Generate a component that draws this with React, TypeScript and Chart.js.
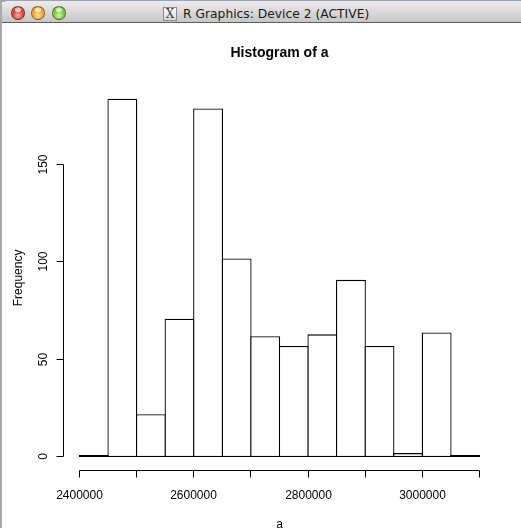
import React, { useEffect, useRef } from "react";
import { Chart, registerables } from "chart.js";

Chart.register(...registerables);

// ---- data ----
const breaks = [
  2400000, 2450000, 2500000, 2550000, 2600000, 2650000, 2700000, 2750000,
  2800000, 2850000, 2900000, 2950000, 3000000, 3050000, 3100000,
];
const counts = [1, 184, 22, 71, 179, 102, 62, 57, 63, 91, 57, 2, 64, 1];
const xTickValues = [2400000, 2500000, 2600000, 2700000, 2800000, 2900000, 3000000, 3100000];
const xLabelValues = [2400000, 2600000, 2800000, 3000000];
const yTickValues = [0, 50, 100, 150];
const chartTitle = "Histogram of a";
const xTitle = "a";
const yTitle = "Frequency";
const windowTitle = "R Graphics: Device 2 (ACTIVE)";

const R_FONT = '"Liberation Sans", Arial, Helvetica, sans-serif';
const BAR_LINE = 1.3;

const rAxesPlugin = {
  id: "rAxes",
  afterDraw(chart: any) {
    const { ctx, chartArea } = chart;
    const x = chart.scales.x;
    const y = chart.scales.y;
    ctx.save();
    ctx.strokeStyle = "#000";
    ctx.fillStyle = "#000";
    ctx.lineWidth = 1;
    ctx.font = `12px ${R_FONT}`;

    const px = (v: number) => Math.floor(x.getPixelForValue(v)) + 0.5;
    const py = (v: number) => Math.round(y.getPixelForValue(v)) - 0.5;

    // x axis
    const axisY = Math.floor(chartArea.bottom) - 0.5;
    ctx.beginPath();
    ctx.moveTo(px(xTickValues[0]), axisY);
    ctx.lineTo(px(xTickValues[xTickValues.length - 1]), axisY);
    xTickValues.forEach((v) => {
      ctx.moveTo(px(v), axisY);
      ctx.lineTo(px(v), axisY + 7);
    });
    ctx.stroke();
    ctx.textAlign = "center";
    ctx.textBaseline = "alphabetic";
    xLabelValues.forEach((v) => {
      ctx.fillText(String(v), px(v), axisY + 28.5);
    });

    // y axis
    const axisX = Math.floor(chartArea.left) + 0.5;
    ctx.beginPath();
    ctx.moveTo(axisX, py(yTickValues[0]));
    ctx.lineTo(axisX, py(yTickValues[yTickValues.length - 1]));
    yTickValues.forEach((v) => {
      ctx.moveTo(axisX, py(v));
      ctx.lineTo(axisX - 7, py(v));
    });
    ctx.stroke();
    yTickValues.forEach((v) => {
      ctx.save();
      ctx.translate(axisX - 17, py(v));
      ctx.rotate(-Math.PI / 2);
      ctx.textAlign = "center";
      ctx.fillText(String(v), 0, 0);
      ctx.restore();
    });

    // axis titles
    ctx.save();
    ctx.translate(21.5, (chartArea.top + chartArea.bottom) / 2);
    ctx.rotate(-Math.PI / 2);
    ctx.textAlign = "center";
    ctx.fillText(yTitle, 0, 0);
    ctx.restore();

    ctx.textAlign = "center";
    ctx.fillText(xTitle, (chartArea.left + chartArea.right) / 2, axisY + 57);
    ctx.restore();
  },
};

function TrafficLight({ cx, colors }: { cx: number; colors: string[] }) {
  return (
    <div
      style={{
        position: "absolute",
        left: cx - 7,
        top: 6,
        width: 14,
        height: 14,
        borderRadius: "50%",
        boxSizing: "border-box",
        border: "1px solid rgba(60,20,0,0.45)",
        background: `radial-gradient(circle at 50% 70%, ${colors[0]} 0%, ${colors[1]} 55%, ${colors[2]} 100%)`,
        boxShadow: "inset 0 1px 1px rgba(255,255,255,0.6)",
        overflow: "hidden",
      }}
    >
      <div
        style={{
          position: "absolute",
          left: 3,
          top: 1,
          width: 6,
          height: 4,
          borderRadius: "50%",
          background: "rgba(255,255,255,0.75)",
        }}
      />
    </div>
  );
}

export default function App() {
  const canvasRef = useRef<HTMLCanvasElement | null>(null);

  useEffect(() => {
    if (!canvasRef.current) return;
    const points = counts.map((c, i) => ({ x: (breaks[i] + breaks[i + 1]) / 2, y: c }));
    const binWidth = breaks[1] - breaks[0];
    const span = breaks[breaks.length - 1] - breaks[0];
    const xMin = breaks[0] - span * 0.04;
    const xMax = breaks[breaks.length - 1] + span * 0.04;
    const maxCount = Math.max(...counts);
    const yMin = -maxCount * 0.04;
    const yMax = maxCount * 1.04;
    // plot width in px is 432 for (xMax - xMin) units; overlap neighbours by one line width
    const unitsPerPx = (xMax - xMin) / 432;

    const chart = new Chart(canvasRef.current, {
      type: "bar",
      data: {
        datasets: [
          {
            data: points,
            backgroundColor: "#ffffff",
            borderColor: "#000000",
            borderWidth: BAR_LINE,
            borderSkipped: false,
            inflateAmount: 0,
            barPercentage: (binWidth + BAR_LINE * unitsPerPx) / binWidth,
            categoryPercentage: 1,
          } as any,
        ],
      },
      options: {
        animation: false,
        responsive: false,
        devicePixelRatio: 1,
        layout: { padding: { left: 63.5, right: 25.5, top: 0, bottom: 56.67 } },
        scales: {
          x: {
            type: "linear",
            display: false,
            offset: false,
            grid: { offset: false },
            min: xMin,
            max: xMax,
            afterBuildTicks: (scale: any) => {
              scale.ticks = breaks.map((v) => ({ value: v }));
            },
          },
          y: {
            type: "linear",
            display: false,
            min: yMin,
            max: yMax,
          },
        },
        plugins: {
          legend: { display: false },
          tooltip: { enabled: false },
          title: {
            display: true,
            text: chartTitle,
            color: "#000",
            font: { family: R_FONT, size: 14, weight: "bold", lineHeight: 1.2 },
            padding: { top: 44.7, bottom: 22.98 },
          },
        },
      },
      plugins: [rAxesPlugin],
    });
    return () => chart.destroy();
  }, []);

  return (
    <div
      style={{
        position: "absolute",
        left: 0,
        top: 0,
        width: 521,
        height: 528,
        overflow: "hidden",
        background: "#fff",
      }}
    >
      <canvas
        ref={canvasRef}
        width={521}
        height={528}
        style={{ position: "absolute", left: 0, top: 0, width: 521, height: 528 }}
      />
      {/* window title bar */}
      <div style={{ position: "absolute", left: 0, top: 0, width: 521, height: 2, background: "#9aa4b0" }} />
      <div
        style={{
          position: "absolute",
          left: 2,
          top: 1,
          width: 519,
          height: 21,
          borderTopLeftRadius: 5,
          background: "linear-gradient(#ececec, #d6d6d6 60%, #c6c6c6)",
        }}
      />
      <div style={{ position: "absolute", left: 2, top: 22, width: 519, height: 1, background: "#5e5e5e" }} />
      <TrafficLight cx={17.5} colors={["#ffb3a8", "#e0332c", "#8e1410"]} />
      <TrafficLight cx={38} colors={["#ffe39a", "#f2a11c", "#a85f00"]} />
      <TrafficLight cx={58.5} colors={["#d5f7a8", "#6cc633", "#2f7d12"]} />
      <div
        style={{
          position: "absolute",
          left: 163,
          top: 7,
          width: 14,
          height: 14,
          boxSizing: "border-box",
          border: "1px solid #8a8a8a",
          background: "linear-gradient(#ffffff, #d9d9d9)",
          fontFamily: '"DejaVu Serif", serif',
          fontSize: 12,
          lineHeight: "12px",
          textAlign: "center",
          color: "#444",
        }}
      >
        X
      </div>
      <div
        style={{
          position: "absolute",
          left: 183,
          top: 5,
          whiteSpace: "nowrap",
          fontFamily: '"DejaVu Sans", sans-serif',
          fontSize: 12.3,
          lineHeight: "18px",
          color: "#1a1a1a",
        }}
      >
        {windowTitle}
      </div>
      {/* left edge of the window behind */}
      <div style={{ position: "absolute", left: 0, top: 0, width: 2, height: 528, background: "#a9a9a9" }} />
    </div>
  );
}
